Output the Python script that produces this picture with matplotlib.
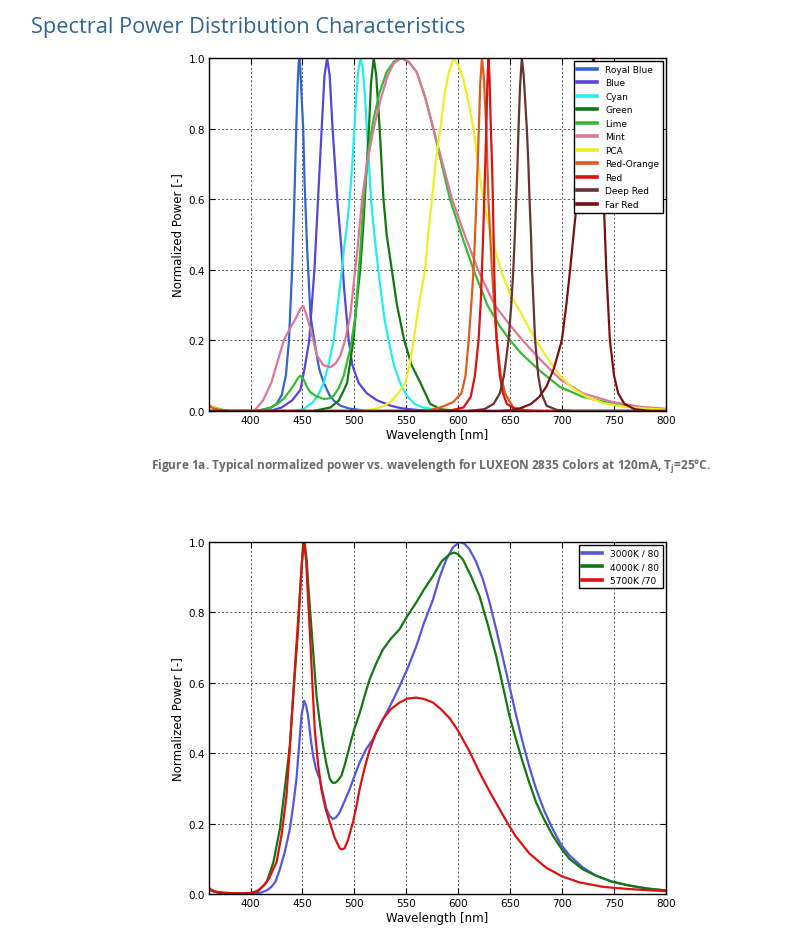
import matplotlib
matplotlib.use("Agg")
import matplotlib.pyplot as plt

# ---------------- data: top chart (LUXEON 2835 Colors) ----------------
royal_blue_wl = [360, 400, 410, 420, 425, 430, 434, 437, 440, 442, 444, 445.3, 446.3, 447, 447.8, 449, 450.7, 452, 454.5, 457.7, 462.5, 466, 470.5, 476, 480, 486.5, 495, 505, 520, 800]
royal_blue_v = [0, 0, 0.003, 0.01, 0.02, 0.045, 0.1, 0.2, 0.4, 0.58, 0.8, 0.92, 0.985, 1.0, 0.98, 0.9, 0.8, 0.65, 0.46, 0.27, 0.18, 0.12, 0.08, 0.045, 0.03, 0.015, 0.007, 0.003, 0, 0]

blue_wl = [360, 415, 422, 430, 440, 448, 452, 456.5, 461.5, 465, 468.5, 471.2, 473.7, 476.2, 479, 483.5, 487.5, 490, 494.5, 498, 504, 512, 522, 535, 545, 560, 580, 800]
blue_v = [0, 0, 0.003, 0.01, 0.03, 0.06, 0.12, 0.2, 0.4, 0.6, 0.8, 0.95, 1.0, 0.95, 0.8, 0.6, 0.46, 0.35, 0.2, 0.13, 0.08, 0.05, 0.03, 0.015, 0.008, 0.003, 0, 0]

cyan_wl = [360, 440, 451, 460, 465, 470.5, 475, 480, 484, 488, 490, 493, 496, 498, 500, 502, 504, 506, 508, 510, 512, 514, 516, 518.5, 521, 525, 529, 533, 538, 544, 550, 558, 566, 580, 600, 800]
cyan_v = [0, 0, 0.005, 0.025, 0.045, 0.08, 0.13, 0.2, 0.3, 0.4, 0.46, 0.53, 0.62, 0.7, 0.8, 0.9, 0.97, 1.0, 0.97, 0.9, 0.8, 0.7, 0.6, 0.52, 0.45, 0.35, 0.26, 0.2, 0.13, 0.08, 0.045, 0.02, 0.01, 0.003, 0, 0]

green_wl = [360, 460, 477, 485, 490, 493, 499, 502, 505.5, 508, 510, 514, 516, 518.6, 521, 524.3, 528, 531, 535, 541, 548, 555, 563.5, 573, 583, 600, 800]
green_v = [0, 0, 0.01, 0.03, 0.06, 0.08, 0.2, 0.3, 0.4, 0.5, 0.6, 0.8, 0.93, 1.0, 0.95, 0.8, 0.6, 0.5, 0.42, 0.3, 0.2, 0.13, 0.08, 0.02, 0.005, 0, 0]

lime_wl = [360, 365, 372, 380, 405, 410, 418, 425.7, 432, 438.5, 443, 446, 448, 451, 454, 457.7, 463, 470.5, 476, 480, 485, 489.7, 493, 496, 501, 503.5, 505.8, 509, 514, 518, 524, 531, 538, 545, 552, 560, 568, 576, 584, 592, 603, 614.7, 628, 640, 650, 660, 678.5, 698, 720, 749, 775, 800]
lime_v = [0.015, 0.01, 0.004, 0, 0, 0.002, 0.008, 0.02, 0.035, 0.06, 0.08, 0.095, 0.1, 0.09, 0.07, 0.053, 0.042, 0.034, 0.036, 0.043, 0.065, 0.1, 0.14, 0.175, 0.27, 0.37, 0.46, 0.6, 0.75, 0.82, 0.9, 0.96, 0.99, 1.0, 0.99, 0.96, 0.89, 0.8, 0.7, 0.6, 0.5, 0.4, 0.3, 0.24, 0.2, 0.165, 0.114, 0.068, 0.04, 0.02, 0.01, 0.005]

mint_wl = [360, 400, 405, 412, 420, 426, 432, 438.5, 444, 448, 450.7, 454, 457.7, 464, 470, 477, 482, 486.5, 491, 496, 500, 503, 507.4, 512, 518.6, 525, 532, 538, 545, 552, 560, 568, 576, 585, 594, 606, 619, 635, 648, 662, 678.5, 698, 720, 749, 775, 800]
mint_v = [0, 0, 0.005, 0.03, 0.08, 0.14, 0.2, 0.237, 0.265, 0.29, 0.298, 0.27, 0.232, 0.157, 0.13, 0.124, 0.135, 0.157, 0.2, 0.27, 0.38, 0.46, 0.6, 0.7, 0.8, 0.88, 0.95, 0.985, 1.0, 0.99, 0.96, 0.89, 0.8, 0.7, 0.6, 0.5, 0.4, 0.3, 0.25, 0.2, 0.147, 0.09, 0.05, 0.025, 0.012, 0.006]

pca_wl = [360, 363, 368, 375, 500, 510, 518, 527, 534.6, 542, 549, 553, 557, 562, 568, 571, 574.7, 578, 582.7, 587, 591, 595.5, 600, 605, 610, 614.7, 619, 624, 630, 636, 642, 650, 660, 668, 676, 688, 698, 710, 724, 740, 760, 780, 800]
pca_v = [0.02, 0.012, 0.006, 0, 0, 0.002, 0.005, 0.012, 0.025, 0.05, 0.08, 0.13, 0.2, 0.3, 0.4, 0.5, 0.6, 0.7, 0.8, 0.9, 0.96, 1.0, 0.98, 0.94, 0.87, 0.8, 0.7, 0.6, 0.52, 0.45, 0.39, 0.33, 0.28, 0.235, 0.195, 0.14, 0.1, 0.065, 0.039, 0.022, 0.012, 0.007, 0.004]

red_orange_wl = [360, 364, 370, 378, 570, 582.7, 595, 603, 607, 610, 612.5, 614.7, 616.2, 617.5, 619.8, 621.2, 622.8, 624.5, 627, 629, 632.4, 635, 637, 641, 645, 653, 665, 680, 800]
red_orange_v = [0.015, 0.008, 0.003, 0, 0, 0.01, 0.025, 0.05, 0.1, 0.2, 0.3, 0.4, 0.5, 0.6, 0.8, 0.93, 1.0, 0.95, 0.8, 0.6, 0.4, 0.28, 0.2, 0.1, 0.05, 0.01, 0.002, 0, 0]

red_wl = [360, 590, 605, 612, 616, 619.5, 621.5, 622.8, 624, 625, 626, 627, 628, 629, 630, 631.4, 632.5, 633.3, 634.6, 635.5, 637, 640, 643, 646.8, 655, 670, 800]
red_v = [0, 0, 0.01, 0.04, 0.1, 0.2, 0.3, 0.4, 0.5, 0.6, 0.7, 0.8, 0.93, 1.0, 0.95, 0.8, 0.7, 0.6, 0.4, 0.3, 0.2, 0.1, 0.05, 0.02, 0.005, 0, 0]

deep_red_wl = [360, 610, 625, 634, 640, 644, 648.4, 651, 653, 654.5, 655.8, 657, 658, 659.5, 661.2, 663, 666, 667.5, 668.6, 670, 671, 672.5, 674, 677, 680, 685, 695, 710, 800]
deep_red_v = [0, 0, 0.005, 0.02, 0.05, 0.1, 0.2, 0.3, 0.4, 0.5, 0.6, 0.7, 0.8, 0.92, 1.0, 0.95, 0.8, 0.7, 0.6, 0.5, 0.4, 0.3, 0.2, 0.1, 0.05, 0.015, 0.003, 0, 0]

far_red_wl = [360, 640, 650, 660, 670, 678, 685, 692, 699.7, 704, 707.7, 711, 714, 718, 722, 726, 730, 732.5, 735, 737.5, 740, 742.5, 746, 750, 754, 760, 770, 785, 800]
far_red_v = [0, 0, 0.002, 0.008, 0.02, 0.04, 0.07, 0.12, 0.2, 0.3, 0.4, 0.5, 0.586, 0.7, 0.8, 0.92, 1.0, 0.97, 0.9, 0.8, 0.6, 0.4, 0.2, 0.1, 0.05, 0.02, 0.005, 0, 0]

top_names = ["Royal Blue", "Blue", "Cyan", "Green", "Lime", "Mint", "PCA",
             "Red-Orange", "Red", "Deep Red", "Far Red"]
top_colors = ["#3366cc", "#5544dd", "#22eeee", "#117711", "#33bb33", "#dd7799",
              "#eeee22", "#e05a1a", "#dd1111", "#663333", "#7a1111"]

# ---------------- data: bottom chart (white LEDs) ----------------
w3000_wl = [360, 363, 368, 375, 390, 405, 410, 415.4, 420, 424, 428.2, 433, 437.8, 441, 444.2, 447, 449, 451.6, 453.5, 455.4, 458, 460.2, 463, 466.6, 470, 473, 476, 479.4, 482.5, 485.8, 490, 495.5, 500, 505.1, 511, 517.9, 524, 530.7, 537, 543.5, 551, 559.5, 567, 575.5, 582, 588.4, 595, 601.2, 606, 610.8, 617, 623.7, 630, 636.5, 643, 649.3, 655.5, 662.1, 668.5, 675, 683, 691, 699, 707, 720, 732.6, 748, 764.7, 782, 800]
w3000_v = [0.012, 0.008, 0.004, 0.002, 0.001, 0.002, 0.004, 0.01, 0.02, 0.035, 0.07, 0.12, 0.184, 0.25, 0.327, 0.43, 0.506, 0.549, 0.535, 0.506, 0.44, 0.393, 0.355, 0.327, 0.28, 0.242, 0.222, 0.213, 0.218, 0.232, 0.26, 0.298, 0.335, 0.374, 0.41, 0.44, 0.475, 0.514, 0.55, 0.59, 0.64, 0.703, 0.77, 0.835, 0.9, 0.95, 0.985, 1.0, 0.995, 0.979, 0.945, 0.894, 0.83, 0.752, 0.67, 0.59, 0.51, 0.43, 0.36, 0.298, 0.235, 0.184, 0.14, 0.11, 0.075, 0.052, 0.035, 0.024, 0.016, 0.01]

w4000_wl = [360, 363, 368, 375, 390, 402, 408, 415.4, 422, 428.2, 433, 437.8, 442, 445.8, 448.5, 450.5, 452, 454, 456, 458.7, 461, 463.5, 467, 469.9, 473, 476.3, 479, 481.5, 484, 487.5, 491, 495.5, 500, 505.1, 510, 514.7, 521, 527.5, 535, 543.5, 551, 559.5, 567, 575.5, 584, 591.5, 596, 600, 604.5, 612, 620.5, 628, 636.5, 643, 649.3, 655.5, 662.1, 668.5, 675, 683, 691, 699, 707, 720, 732.6, 748, 764.7, 782, 800]
w4000_v = [0.015, 0.01, 0.005, 0.003, 0.002, 0.003, 0.01, 0.033, 0.09, 0.184, 0.3, 0.421, 0.6, 0.752, 0.9, 0.99, 1.0, 0.95, 0.86, 0.752, 0.66, 0.563, 0.48, 0.421, 0.37, 0.327, 0.316, 0.316, 0.322, 0.336, 0.37, 0.421, 0.47, 0.514, 0.565, 0.61, 0.655, 0.695, 0.725, 0.752, 0.79, 0.828, 0.865, 0.903, 0.945, 0.965, 0.97, 0.965, 0.95, 0.905, 0.846, 0.77, 0.676, 0.59, 0.506, 0.44, 0.374, 0.315, 0.26, 0.21, 0.166, 0.13, 0.1, 0.07, 0.052, 0.035, 0.024, 0.015, 0.01]

w5700_wl = [360, 362, 366, 372, 385, 400, 405, 408.9, 413, 418, 421, 425, 430, 434.6, 438, 441, 444, 447.4, 449.5, 451.3, 453.5, 455, 457, 459.5, 461.8, 465, 468.2, 472, 476.2, 481, 485.8, 488, 490.6, 494, 498.6, 502, 505, 510, 514.7, 521, 527.5, 535, 543.5, 551, 559.5, 567, 575.5, 583, 591.5, 599.6, 610.8, 620, 630, 640, 647.7, 655, 668.5, 684.5, 700, 716.6, 740, 764.7, 800]
w5700_v = [0.018, 0.012, 0.007, 0.004, 0.002, 0.003, 0.007, 0.014, 0.025, 0.045, 0.065, 0.09, 0.17, 0.279, 0.42, 0.563, 0.7, 0.847, 0.94, 1.0, 0.95, 0.86, 0.752, 0.6, 0.468, 0.37, 0.298, 0.245, 0.204, 0.16, 0.13, 0.127, 0.13, 0.155, 0.204, 0.25, 0.298, 0.36, 0.41, 0.46, 0.497, 0.525, 0.544, 0.555, 0.558, 0.554, 0.544, 0.526, 0.5, 0.465, 0.405, 0.348, 0.292, 0.24, 0.2, 0.165, 0.115, 0.075, 0.05, 0.033, 0.02, 0.014, 0.008]

bottom_names = ["3000K / 80", "4000K / 80", "5700K /70"]
bottom_colors = ["#5555dd", "#117711", "#dd1111"]

x_ticks = [400, 450, 500, 550, 600, 650, 700, 750, 800]
y_ticks = [0.0, 0.2, 0.4, 0.6, 0.8, 1.0]
x_label = "Wavelength [nm]"
y_label = "Normalized Power [-]"

top_series = list(zip(top_names, top_colors,
                      [royal_blue_wl, blue_wl, cyan_wl, green_wl, lime_wl, mint_wl, pca_wl,
                       red_orange_wl, red_wl, deep_red_wl, far_red_wl],
                      [royal_blue_v, blue_v, cyan_v, green_v, lime_v, mint_v, pca_v,
                       red_orange_v, red_v, deep_red_v, far_red_v]))
bottom_series = list(zip(bottom_names, bottom_colors,
                         [w3000_wl, w4000_wl, w5700_wl],
                         [w3000_v, w4000_v, w5700_v]))

# ---------------- figure ----------------
W, H = 802, 929
fig = plt.figure(figsize=(W / 100, H / 100), dpi=100)
fig.patch.set_facecolor("white")


def style_axes(ax, series):
    for name, col, xs, ys in series:
        ax.plot(xs, ys, color=col, lw=1.6, label=name, solid_joinstyle="round")
    ax.set_xlim(360, 800)
    ax.set_ylim(0, 1)
    ax.set_xticks(x_ticks)
    ax.set_yticks(y_ticks)
    ax.set_yticklabels([f"{t:.1f}" for t in y_ticks])
    ax.tick_params(direction="in", top=True, right=True, length=4, width=0.8,
                   labelsize=7.5, pad=3)
    ax.grid(True, color="black", lw=0.6, linestyle=(0, (2.5, 2.5)), alpha=0.75)
    for s in ax.spines.values():
        s.set_linewidth(1.0)
    ax.set_xlabel(x_label, fontsize=8.5, labelpad=2)
    ax.set_ylabel(y_label, fontsize=8.5, labelpad=3)
    leg = ax.legend(loc="upper right", fontsize=6.5, frameon=True, fancybox=False,
                    framealpha=1, edgecolor="black", borderpad=0.4, labelspacing=0.5,
                    handlelength=2.2, handletextpad=0.9, borderaxespad=0.35)
    leg.get_frame().set_linewidth(1.0)
    for ln in leg.get_lines():
        ln.set_linewidth(2.6)


ax1 = fig.add_axes([209 / W, 1 - 412 / H, 457 / W, 353 / H])
style_axes(ax1, top_series)

ax2 = fig.add_axes([209 / W, 1 - 895 / H, 457 / W, 352 / H])
style_axes(ax2, bottom_series)

fig.text(31 / W, 1 - 28 / H, "Spectral Power Distribution Characteristics",
         family="Open Sans", fontsize=15.7, color="#2f6494", va="center", ha="left")

plt.rcParams["mathtext.fontset"] = "custom"
plt.rcParams["mathtext.rm"] = "Open Sans:bold"
fig.text(431 / W, 1 - 467 / H,
         r"Figure 1a. Typical normalized power vs. wavelength for LUXEON 2835 Colors at 120mA, T$_\mathregular{j}$=25°C.",
         family="Open Sans", fontweight="bold", fontsize=8.6, color="#6a6a6a",
         va="center", ha="center")

fig.savefig("out.png", dpi=100, facecolor="white")
